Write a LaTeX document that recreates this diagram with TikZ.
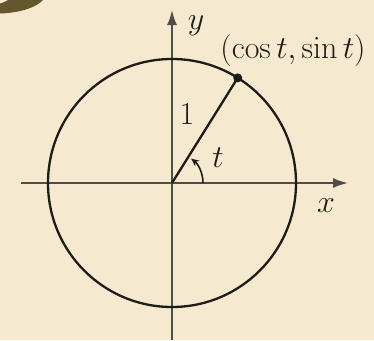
\documentclass[tikz,border=0pt]{standalone}
\usepackage{fix-cm}
\usetikzlibrary{arrows.meta,calc}
\definecolor{bgc}{RGB}{245,234,208}
\definecolor{glyphc}{RGB}{102,86,46}
\definecolor{inkc}{RGB}{30,28,25}
\definecolor{axisc}{RGB}{80,77,70}
\begin{document}
\begin{tikzpicture}[x=1pt,y=1pt,
  axisline/.style={draw=axisc,line width=1.9pt,-{Latex[length=15pt,width=10pt]}},
  inkline/.style={draw=inkc,line width=2.3pt},
  lbl/.style={inner sep=0pt,text=inkc,font=\fontsize{32}{38}\selectfont}]
\fill[bgc] (0,0) rectangle (374,-340);
\useasboundingbox (0,0) rectangle (374,-340);
% partial large glyph at top-left
\fill[glyphc] (0,-13.5) .. controls (18,-13) and (36,-8) .. (43,0) -- (8,0) .. controls (5,-2) and (2,-3) .. (0,-3.5) -- cycle;
\coordinate (O) at (172,-183);
\coordinate (xs) at (21,-183);
\coordinate (xe) at (348,-183);
\coordinate (ys) at (172,-340);
\coordinate (ye) at (172,-10);
\draw[axisline] (xs) -- (xe);
\draw[axisline] (ys) -- (ye);
\draw[inkline] (O) circle[radius=124];
\coordinate (P) at ($(O)+(58:124)$);
\draw[inkline] (O) -- (P);
\fill[inkc] (P) circle[radius=4.5];
\draw[draw=inkc,line width=1.6pt,-{Stealth[length=8pt,width=7pt]}] ($(O)+(31,0)$) arc[start angle=0,end angle=52,radius=31];
\node[lbl] (ylab) at (196,-26) {$y$};
\node[lbl] (xlab) at (326,-206) {$x$};
\node[lbl] (plab) at (293,-51) {$(\cos t,\sin t)$};
\node[lbl] (one) at (187,-114) {$1$};
\node[lbl] (tlab) at (218,-158) {$t$};
\end{tikzpicture}
\end{document}
